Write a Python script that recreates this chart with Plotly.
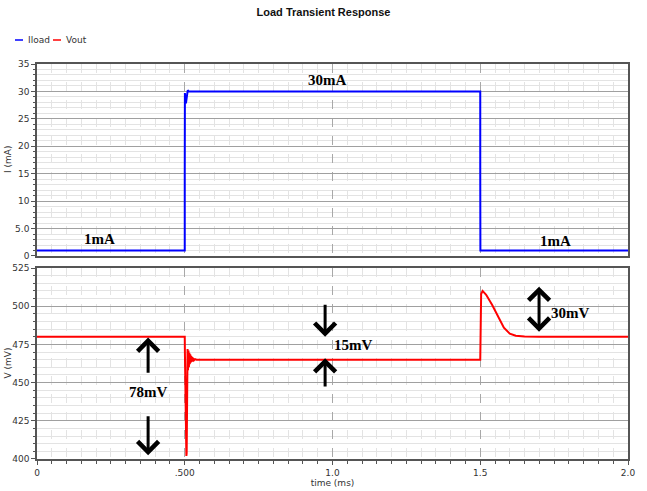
import plotly.graph_objects as go

# ---- data ---------------------------------------------------------------
# load current step (ms, mA)
t_iload = [0.0, 0.5, 0.5, 0.5005, 0.502, 0.504, 0.506, 0.508, 0.510, 0.514, 1.5, 1.5, 1.5005, 2.0]
iload = [1.0, 1.0, 15.0, 29.7, 28.6, 27.8, 28.8, 30.1, 30.2, 30.0, 30.0, 15.0, 1.0, 1.0]

# regulator output voltage (ms, mV)
t_vout = [0.0, 0.5, 0.5005, 0.503, 0.5055, 0.5065, 0.508, 0.5095, 0.511, 0.5125,
          0.514, 0.5155, 0.517, 0.5185, 0.520, 0.5215, 0.523, 0.5245, 0.526,
          0.528, 0.531, 0.535, 0.54, 1.5, 1.5005, 1.503, 1.508, 1.52, 1.54,
          1.56, 1.58, 1.60, 1.62, 1.65, 1.70, 2.0]
vout = [480.0, 480.0, 470.0, 430.0, 402.0, 404.0, 438.0, 472.0, 458.0, 471.0,
        460.0, 469.5, 462.0, 468.5, 463.0, 467.5, 463.5, 466.8, 464.0,
        466.2, 464.6, 465.4, 465.0, 465.0, 495.0, 508.0, 510.0, 507.5, 501.0,
        493.0, 486.0, 482.0, 480.7, 480.2, 480.0, 480.0]

x_tickvals = [0, 0.5, 1.0, 1.5, 2.0]
x_ticktext = ["0", ".500", "1.0", "1.5", "2.0"]
i_tickvals = [0, 5, 10, 15, 20, 25, 30, 35]
i_ticktext = ["0", "5.0", "10", "15", "20", "25", "30", "35"]
v_tickvals = [400, 425, 450, 475, 500, 525]
v_ticktext = ["400", "425", "450", "475", "500", "525"]

# labelled levels: (time, value, text)
i_labels = [(0.213, 3.1, "1mA"), (0.981, 32.1, "30mA"), (1.753, 2.8, "1mA")]
v_labels = [(0.376, 443.8, "78mV"), (1.068, 474.6, "15mV"), (1.804, 495.5, "30mV")]
# arrows: (time, head value, tail value, double-headed)
v_arrows = [(0.376, 479.5, 455.5, False), (0.376, 402.5, 429.0, False),
            (0.975, 480.0, 502.0, False), (0.975, 466.0, 446.5, False),
            (1.699, 512.8, 482.3, True)]

# ---- figure -------------------------------------------------------------
fig = go.Figure()
fig.add_trace(go.Scatter(x=t_iload, y=iload, mode="lines", name="Iload",
                         line=dict(color="#0000ff", width=2), xaxis="x", yaxis="y"))
fig.add_trace(go.Scatter(x=t_vout, y=vout, mode="lines", name="Vout",
                         line=dict(color="#ff0000", width=2), xaxis="x2", yaxis="y2"))

tick_font = dict(family="DejaVu Sans", size=9, color="#333333")
title_font = dict(family="DejaVu Sans", size=9, color="#333333")
frame = dict(showline=True, mirror=True, linecolor="#555555", linewidth=1.5)

xcommon = dict(range=[0, 2.0], tickvals=x_tickvals, ticktext=x_ticktext,
               showgrid=True, gridcolor="#a8a8a8", griddash="dash", gridwidth=1,
               zeroline=False, tickfont=tick_font, automargin=False, **frame)

TOP_DOMAIN = [0.514, 1]
BOTTOM_DOMAIN = [0, 0.4835]

fig.update_layout(
    width=647, height=491,
    margin=dict(l=37, r=19, t=64, b=32, autoexpand=False),
    paper_bgcolor="white", plot_bgcolor="white",
    showlegend=False,
    title=dict(text="<b>Load Transient Response</b>", x=0.5, xanchor="center",
               y=1 - 12 / 491, yanchor="middle", automargin=False,
               font=dict(family="Liberation Sans", size=11, color="#111111")),
    xaxis=dict(anchor="y", domain=[0, 1], showticklabels=False, ticks="",
               minor=dict(dtick=0.05, tick0=0, showgrid=True, gridcolor="#e3e3e3",
                          ticks=""),
               **xcommon),
    xaxis2=dict(anchor="y2", domain=[0, 1], matches="x", ticks="outside",
                ticklen=4, tickcolor="#555555",
                minor=dict(dtick=0.05, tick0=0, showgrid=True, gridcolor="#e3e3e3",
                           ticks="outside", ticklen=3, tickcolor="#555555"),
                title=dict(text="time (ms)", standoff=3, font=title_font),
                **xcommon),
    yaxis=dict(anchor="x", domain=TOP_DOMAIN, range=[0, 35],
               tickvals=i_tickvals, ticktext=i_ticktext, ticks="outside",
               ticklen=4, tickcolor="#555555", tickfont=tick_font,
               showgrid=True, gridcolor="#a0a0a0", gridwidth=1, zeroline=False,
               minor=dict(dtick=1, tick0=0, showgrid=True, gridcolor="#e3e3e3",
                          ticks="outside", ticklen=2, tickcolor="#555555"),
               automargin=False, **frame),
    yaxis2=dict(anchor="x2", domain=BOTTOM_DOMAIN, range=[400, 525],
                tickvals=v_tickvals, ticktext=v_ticktext, ticks="outside",
                ticklen=4, tickcolor="#555555", tickfont=tick_font,
                showgrid=True, gridcolor="#a0a0a0", gridwidth=1, zeroline=False,
                minor=dict(dtick=5, tick0=400, showgrid=True, gridcolor="#e3e3e3",
                           ticks="outside", ticklen=2, tickcolor="#555555"),
                automargin=False, **frame),
)

# rotated y-axis titles placed beside the tick labels
ytitle_x = (8 - 37) / 591
for txt, dom in (("I (mA)", TOP_DOMAIN), ("V (mV)", BOTTOM_DOMAIN)):
    fig.add_annotation(x=ytitle_x, y=(dom[0] + dom[1]) / 2, xref="paper",
                       yref="paper", text=txt, textangle=-90, showarrow=False,
                       xanchor="center", yanchor="middle", font=title_font)

label_font = dict(family="Liberation Serif", size=15, color="black")
for t, v, txt in i_labels:
    fig.add_annotation(x=t, y=v, xref="x", yref="y", text="<b>%s</b>" % txt,
                       showarrow=False, font=label_font)
for t, v, txt in v_labels:
    fig.add_annotation(x=t, y=v, xref="x2", yref="y2", text="<b>%s</b>" % txt,
                       showarrow=False, font=label_font)
for t, head, tail, both in v_arrows:
    fig.add_annotation(x=t, y=head, ax=t, ay=tail, xref="x2", yref="y2",
                       axref="x2", ayref="y2", text="", showarrow=True,
                       arrowhead=4, startarrowhead=4, arrowsize=1.35,
                       startarrowsize=1.35, arrowwidth=3, arrowcolor="black",
                       arrowside="end+start" if both else "end",
                       standoff=0, startstandoff=0)

# legend drawn as short line samples with labels
legend_items = [("Iload", "#0000ff", 15), ("Vout", "#ff0000", 53)]
for name, color, px in legend_items:
    x0 = (px - 37) / 591
    x1 = (px + 8 - 37) / 591
    yy = (459 - 40) / 395
    fig.add_shape(type="line", xref="paper", yref="paper", x0=x0, x1=x1,
                  y0=yy, y1=yy, line=dict(color=color, width=1.5))
    fig.add_annotation(x=(px + 11 - 37) / 591, y=yy, xref="paper", yref="paper",
                       text=name, showarrow=False, xanchor="left", yanchor="middle",
                       font=dict(family="DejaVu Sans", size=9, color="#333333"))

fig.write_html("out.html")
